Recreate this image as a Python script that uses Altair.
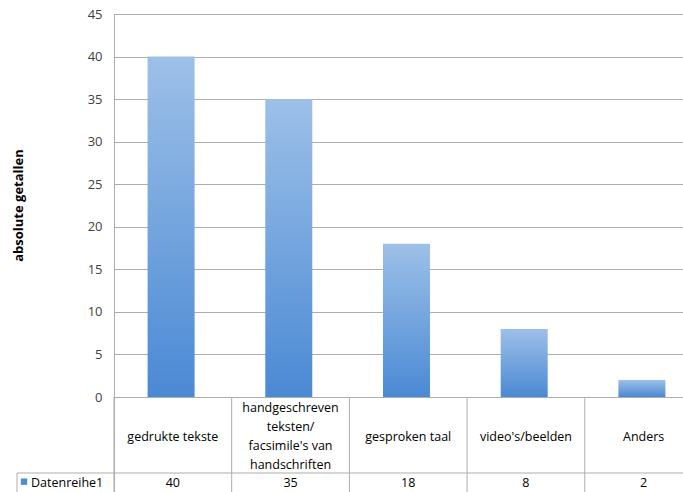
import altair as alt
import pandas as pd

# Survey counts per type of source material
categories = [
    "gedrukte tekste",
    "handgeschreven\nteksten/\nfacsimile's van\nhandschriften",
    "gesproken taal",
    "video's/beelden",
    "Anders",
]
values = [40, 35, 18, 8, 2]
series_name = "Datenreihe1"
y_ticks = [0, 5, 10, 15, 20, 25, 30, 35, 40, 45]

# Layout (pixels)
W_TOTAL, H_TOTAL = 683, 492
LEFT, TOP = 114, 14
PLOT_W, PLOT_H = W_TOTAL - LEFT, H_TOTAL - TOP
ZERO_PX = 383            # distance from plot top to the value 0
CELL_W = 117.7           # width of one category cell
TABLE_ROW_PX = 459       # top of the data-table row, from plot top
LINE_H = 19              # line height of wrapped category labels
BAR_SHIFT = -0.015       # bars sit slightly left of the cell centre

px_per_unit = ZERO_PX / 45
y_min = 45 - PLOT_H / px_per_unit
row_top = 45 - TABLE_ROW_PX / px_per_unit
x_max = PLOT_W / CELL_W
cell_mid = row_top / 2
row_mid = (row_top + y_min) / 2

n_lines = [c.count("\n") + 1 for c in categories]
df = pd.DataFrame({
    "pos": [i + 0.5 for i in range(len(categories))],
    "bar_pos": [i + 0.5 + BAR_SHIFT for i in range(len(categories))],
    "cat": categories,
    # first-line position so the wrapped block is centred in its cell
    "cat_y": [cell_mid + (n - 1) / 2 * LINE_H / px_per_unit - 0.2 for n in n_lines],
    "value": values,
    "label": [str(v) for v in values],
})
div_df = pd.DataFrame({"x": list(range(len(categories) + 1))})

FONT = "Open Sans"
LINE = "#adadad"

xs = alt.Scale(domain=[0, x_max], nice=False, zero=False, padding=0)
ys = alt.Scale(domain=[y_min, 45], nice=False, zero=False, padding=0)

base = alt.Chart(df)

grad = alt.Gradient(
    gradient="linear",
    stops=[alt.GradientStop(color="#9dc0e8", offset=0),
           alt.GradientStop(color="#4a89d4", offset=1)],
    x1=0, x2=0, y1=0, y2=1,
)

bars = base.mark_bar(size=47, color=grad).encode(
    x=alt.X("bar_pos:Q", scale=xs, axis=None),
    y=alt.Y(
        "value:Q", scale=ys,
        axis=alt.Axis(
            values=y_ticks, grid=True, gridColor=LINE, gridWidth=1,
            domainColor=LINE, ticks=False, labelPadding=12,
            labelFont=FONT, labelFontSize=13, labelColor="#404040",
            title="absolute getallen", titleFont=FONT, titleFontSize=13,
            titleFontWeight="bold", titleColor="#000000", titleAngle=270,
            titleX=-96, titleY=191, titleAlign="center", titleBaseline="middle",
        ),
    ),
    y2=alt.datum(0),
)

# vertical cell dividers of the category/data table
dividers = alt.Chart(div_df).mark_rule(color=LINE, strokeWidth=1).encode(
    x=alt.X("x:Q", scale=xs),
    y=alt.datum(0, scale=ys),
    y2=alt.datum(y_min),
)

# top border of the data row, starting at the legend cell
row_line = alt.Chart(df.head(1)).mark_rule(color=LINE, strokeWidth=1).encode(
    x=alt.value(17 - LEFT), x2=alt.value(PLOT_W),
    y=alt.datum(row_top, scale=ys),
)
row_left = alt.Chart(df.head(1)).mark_rule(color=LINE, strokeWidth=1).encode(
    x=alt.value(17 - LEFT),
    y=alt.datum(row_top, scale=ys), y2=alt.datum(y_min),
)

cat_text = base.mark_text(
    font=FONT, fontSize=12.5, color="#000000", lineBreak="\n",
    lineHeight=LINE_H, baseline="middle", align="center",
).encode(
    x=alt.X("pos:Q", scale=xs),
    y=alt.Y("cat_y:Q", scale=ys),
    text="cat:N",
)

val_text = base.mark_text(
    font=FONT, fontSize=12.5, color="#000000", baseline="middle", align="center",
).encode(
    x=alt.X("pos:Q", scale=xs),
    y=alt.datum(row_mid, scale=ys),
    text="label:N",
)

legend_sq = alt.Chart(df.head(1)).mark_square(size=40, color="#4f8ad4", opacity=1).encode(
    x=alt.value(24 - LEFT),
    y=alt.datum(row_mid + 0.1, scale=ys),
)
legend_txt = alt.Chart(df.head(1)).mark_text(
    font=FONT, fontSize=12.5, color="#000000", align="left", baseline="middle",
).encode(
    x=alt.value(31 - LEFT),
    y=alt.datum(row_mid, scale=ys),
    text=alt.value(series_name),
)

chart = alt.layer(
    bars, dividers, row_line, row_left, cat_text, val_text, legend_sq, legend_txt
).properties(
    width=PLOT_W, height=PLOT_H,
    autosize=alt.AutoSizeParams(type="none"),
    padding={"left": LEFT, "top": TOP, "right": 0, "bottom": 0},
).configure_view(stroke=None).configure(background="white")

chart.save("out.html", embed_options={"renderer": "svg", "actions": False})
